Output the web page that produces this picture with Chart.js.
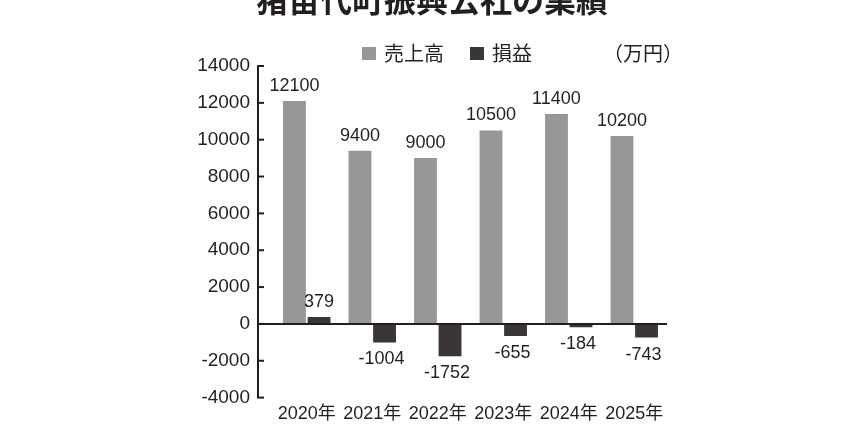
<!DOCTYPE html>
<html lang="ja">
<head>
<meta charset="utf-8">
<title>猪苗代町振興公社の業績</title>
<script src="https://cdn.jsdelivr.net/npm/chart.js@4.4.1/dist/chart.umd.min.js"></script>
<style>
  html, body { margin: 0; padding: 0; background: #fff; }
  #wrap { position: relative; width: 860px; height: 430px; overflow: hidden; }
</style>
</head>
<body>
<!-- y軸ラベルの余白ぶんだけキャンバスを少し高くして下端をはみ出させる -->
<div id="wrap"><canvas id="chartKosha" width="860" height="433"></canvas></div>
<script>
// データ（単位：万円）
const years = ['2020年', '2021年', '2022年', '2023年', '2024年', '2025年'];
const uriage = [12100, 9400, 9000, 10500, 11400, 10200];   // 売上高
const soneki = [379, -1004, -1752, -655, -184, -743];      // 損益
const yTicks = [-4000, -2000, 0, 2000, 4000, 6000, 8000, 10000, 12000, 14000];

const chartTitle = '猪苗代町振興公社の業績';
const unitText = '（万円）';

const numFont = '"Liberation Sans", "Noto Sans CJK JP", sans-serif';
const jpFont = '"Noto Sans CJK JP", sans-serif';

// 縦軸の線・目盛り・ゼロ線・タイトル・凡例・数値ラベルを描く
const decoPlugin = {
  id: 'deco',
  afterDraw(chart) {
    const ctx = chart.ctx;
    const y = chart.scales.y;
    const area = chart.chartArea;
    const axisX = area.left - 16;

    ctx.save();
    // 縦軸
    ctx.strokeStyle = '#231f20';
    ctx.lineWidth = 2;
    ctx.beginPath();
    ctx.moveTo(axisX, y.getPixelForValue(yTicks[yTicks.length - 1]));
    ctx.lineTo(axisX, y.getPixelForValue(yTicks[0]));
    ctx.stroke();
    yTicks.forEach(v => {
      const py = y.getPixelForValue(v);
      ctx.beginPath();
      ctx.moveTo(axisX - 1, py);
      ctx.lineTo(axisX + 6, py);
      ctx.stroke();
    });
    // ゼロ線
    ctx.beginPath();
    ctx.moveTo(axisX, y.getPixelForValue(0));
    ctx.lineTo(area.right, y.getPixelForValue(0));
    ctx.stroke();

    // 数値ラベル
    ctx.fillStyle = '#231f20';
    ctx.font = '18px ' + numFont;
    ctx.textAlign = 'center';
    ctx.textBaseline = 'middle';
    chart.data.datasets.forEach((ds, di) => {
      chart.getDatasetMeta(di).data.forEach((bar, i) => {
        const v = ds.data[i];
        const py = v >= 0 ? bar.y - 15 : bar.y + 17;
        ctx.fillText(String(v), bar.x - (v < 0 ? 3 : 0), py);
      });
    });

    // タイトル（上端が切れている）
    ctx.font = 'bold 32px ' + jpFont;
    ctx.fillText(chartTitle, 432, 0);

    // 凡例
    const legendX = [362, 470];
    ctx.font = '20px ' + jpFont;
    ctx.textAlign = 'left';
    chart.data.datasets.forEach((ds, di) => {
      ctx.fillStyle = ds.backgroundColor;
      ctx.fillRect(legendX[di], 47, 14, 13);
      ctx.fillStyle = '#231f20';
      ctx.fillText(ds.label, legendX[di] + 22, 53);
    });
    ctx.fillText(unitText, 603, 53);
    ctx.restore();
  }
};

new Chart(document.getElementById('chartKosha'), {
  type: 'bar',
  data: {
    labels: years,
    datasets: [
      {
        label: '売上高',
        data: uriage,
        backgroundColor: '#979797',
        categoryPercentage: 0.75,
        barPercentage: 0.93
      },
      {
        label: '損益',
        data: soneki,
        backgroundColor: '#3a3536',
        categoryPercentage: 0.75,
        barPercentage: 0.93
      }
    ]
  },
  options: {
    responsive: false,
    animation: false,
    layout: {
      padding: { left: 194, right: 193, top: 66, bottom: 0 }
    },
    plugins: {
      legend: { display: false },
      tooltip: { enabled: false }
    },
    scales: {
      x: {
        afterFit: function(scale) { scale.height = 28; },
        grid: { display: false, drawTicks: false },
        border: { display: false },
        ticks: {
          color: '#231f20',
          padding: 6,
          font: { size: 18, family: numFont }
        }
      },
      y: {
        min: -4000,
        max: 14000,
        afterFit: function(scale) { scale.width = 80; },
        afterBuildTicks: function(scale) {
          scale.ticks = yTicks.map(v => ({ value: v }));
        },
        grid: { display: false, drawTicks: false },
        border: { display: false },
        ticks: {
          color: '#231f20',
          padding: 24,
          font: { size: 19, family: numFont },
          callback: function(value) { return String(value); }
        }
      }
    }
  },
  plugins: [decoPlugin]
});
</script>
</body>
</html>
